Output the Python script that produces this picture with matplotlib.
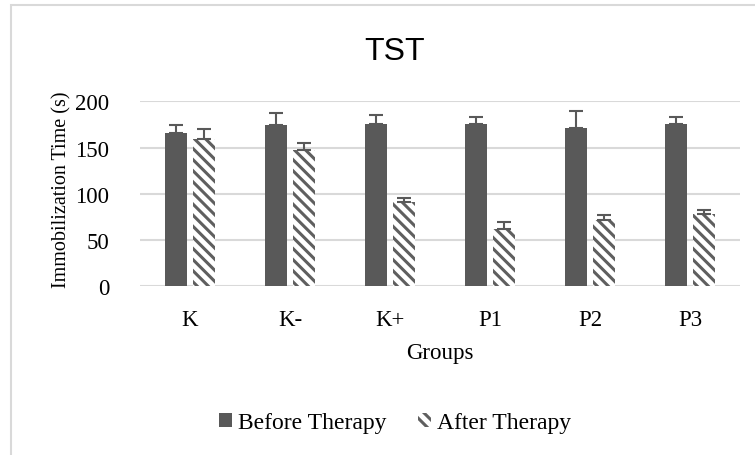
import numpy as np
import matplotlib
matplotlib.use("Agg")
import matplotlib.pyplot as plt
from matplotlib.patches import Rectangle

groups = ["K", "K-", "K+", "P1", "P2", "P3"]
before = [166, 174, 175, 176, 171, 175]
before_err = [8, 13, 10, 7, 18, 8]
after = [159, 147, 91, 62, 72, 78]
after_err = [11, 8, 5, 8, 5, 5]

plt.rcParams['hatch.color'] = '#5f5f5f'
plt.rcParams['hatch.linewidth'] = 2.2

serif = "Liberation Serif"
fig = plt.figure(figsize=(7.55, 4.56), dpi=100)
ax = fig.add_axes([140 / 755, 1 - 287.3 / 456, 600 / 755, 185 / 456])

x = np.arange(len(groups))
w = 0.22
off = 0.14
err_kw = dict(ecolor='#595959', elinewidth=1.5, capsize=5, capthick=1.5)
ax.bar(x - off, before, w, color='#595959', label='Before Therapy', zorder=3,
       yerr=[np.zeros(len(before)), before_err], error_kw=err_kw)
ax.bar(x + off, after, w, color='white', hatch='\\\\\\', edgecolor='#5f5f5f',
       linewidth=0, label='After Therapy', zorder=3,
       yerr=[np.zeros(len(after)), after_err], error_kw=err_kw)

ax.set_xlim(-0.5, len(groups) - 0.5)
ax.set_ylim(0, 200)
ax.set_yticks([0, 50, 100, 150, 200])
ax.grid(axis='y', color='#d9d9d9', linewidth=1.5, zorder=0)
ax.set_axisbelow(True)
for s in ax.spines.values():
    s.set_visible(False)
ax.tick_params(length=0)
ax.set_xticks(x)
ax.set_xticklabels(groups, family=serif, fontsize=16.5)
for lab in ax.get_yticklabels():
    lab.set_family(serif)
    lab.set_fontsize(16.5)
ax.tick_params(axis='x', pad=16)
ax.tick_params(axis='y', pad=22)

fig.text(62 / 755, 1 - 190 / 456, "Immobilization Time (s)", rotation=90,
         ha='center', va='center', family=serif, fontsize=14.5)
fig.text(440 / 755, 1 - 354 / 456, "Groups", ha='center', va='center',
         family=serif, fontsize=16.5)
fig.text(395 / 755, 1 - 52 / 456, "TST", ha='center', va='center',
         family="Liberation Sans", fontsize=23)

leg = fig.legend(loc='center', bbox_to_anchor=(395 / 755, 1 - 424 / 456), ncol=2,
                 frameon=False, prop={'family': serif, 'size': 17},
                 handlelength=0.55, handleheight=0.55, handletextpad=0.25,
                 columnspacing=1.35)

fig.patches.append(Rectangle((11 / 755, -0.1), 1.2, 1 - 6 / 456 + 0.1,
                             transform=fig.transFigure, fill=False,
                             edgecolor='#d9d9d9', linewidth=1.5))

fig.savefig("out.png", dpi=100)
